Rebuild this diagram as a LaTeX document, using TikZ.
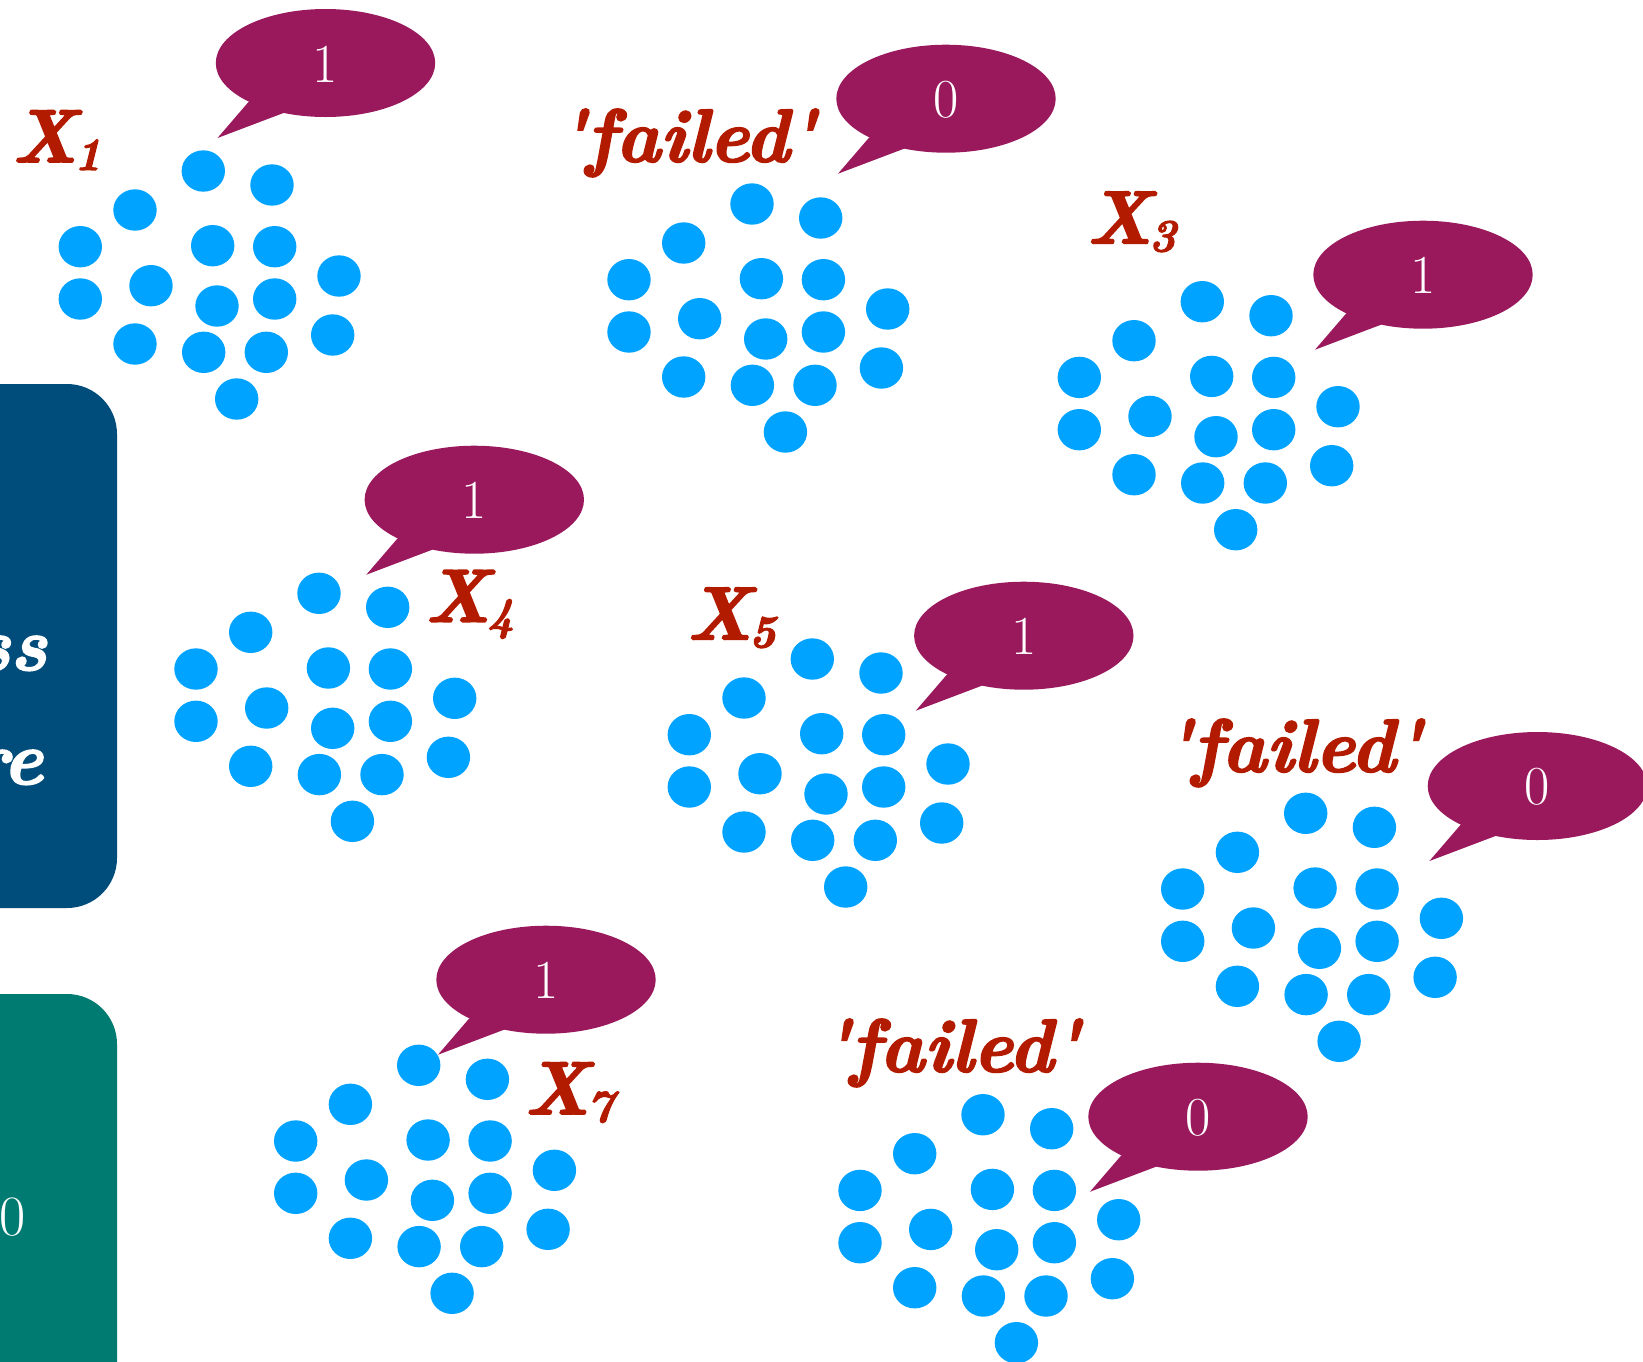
\documentclass[tikz,border=0pt]{standalone}
\usepackage{fontspec}
\newfontface\lblfont{lmroman10-bolditalic.otf}[FakeBold=2.5]
\definecolor{dotblue}{HTML}{00A3FF}
\definecolor{bubblecol}{HTML}{9A195D}
\definecolor{labelred}{HTML}{B31B00}
\definecolor{boxblue}{HTML}{004D7B}
\definecolor{boxteal}{HTML}{007B72}
\newcommand\subsc[1]{\kern-3pt\raisebox{-8pt}{\fontsize{46}{46}\selectfont #1}}
\newcommand\dotcluster[2]{%
  \begin{scope}[shift={(#1,#2)}]
    \foreach \px/\py in {0/0, 68.7/14, -68.3/39, -123/75.7, 9.4/74.7, 71.4/75.7,
      135.7/105, -123/128, -52.3/114.7, 13.7/135, 71.4/128, 129.4/164,
      -68.3/173, 0.4/181.3, 63/181.3, 33.4/228}
      \fill[bluedot] (\px,\py) ellipse[x radius=21.7pt, y radius=20.7pt];
  \end{scope}}
\newcommand\speech[4]{%
  \begin{scope}[shift={(#2,#3)}]
    \fill[bubblecol] (0,0) ellipse[x radius=109.7pt, y radius=54pt];
    \fill[bubblecol] (-108,75) -- (-77,39) -- (0,0) -- (-42,50) -- cycle;
    \node[bubbletext] (#1) at (0,1) {#4};
  \end{scope}}
\tikzset{
  bluedot/.style={fill=dotblue},
  bubbletext/.style={text=white, inner sep=0pt, font=\fontsize{55}{60}\selectfont},
  lbl/.style={text=labelred, inner sep=0pt, anchor=base west, font=\lblfont\fontsize{75}{80}\selectfont},
  boxtext/.style={text=white, inner sep=0pt, anchor=base east, font=\lblfont\fontsize{75}{80}\selectfont},
  sidebox/.style={rounded corners=50pt}
}
\begin{document}
\begin{tikzpicture}[x=1pt,y=-1pt]
\useasboundingbox (0,0) rectangle (1643,1361);
\fill[white] (0,0) rectangle (1643,1361);
\clip (0,0) rectangle (1643,1361);
% side boxes
\fill[boxblue, sidebox] (-120,384) rectangle (117,908);
\fill[boxteal, sidebox] (-120,994) rectangle (117,1500);
\node[boxtext] (bss) at (47,670) {ss};
\node[boxtext] (bre) at (43,784) {re};
\node[text=white, inner sep=0pt, anchor=base east, font=\fontsize{57}{60}\selectfont] (bzero) at (26,1235) {0};
% clusters
\dotcluster{203.3}{171}
\dotcluster{752}{204}
\dotcluster{1202.3}{301.7}
\dotcluster{319}{593.3}
\dotcluster{812.3}{659}
\dotcluster{1305.7}{813.3}
\dotcluster{418.7}{1065.3}
\dotcluster{983}{1114.7}
% bubbles
\speech{b1}{325.5}{63}{1}
\speech{b2}{946}{98.7}{0}
\speech{b3}{1423}{274.7}{1}
\speech{b4}{474.3}{499.7}{1}
\speech{b5}{1023.8}{635.7}{1}
\speech{b6}{1537.4}{786}{0}
\speech{b7}{546}{979.7}{1}
\speech{b8}{1198}{1116.7}{0}
% labels
\node[lbl] (x1) at (12,162) {X\subsc{1}};
\node[lbl] (f2) at (559,161.7) {\textquotesingle failed\textquotesingle};
\node[lbl] (x3) at (1086.7,243.3) {X\subsc{3}};
\node[lbl] (x4) at (425,621.7) {X\subsc{4}};
\node[lbl] (x5) at (686.7,639.3) {X\subsc{5}};
\node[lbl] (f6) at (1165,771.7) {\textquotesingle failed\textquotesingle};
\node[lbl] (x7) at (524.3,1114) {X\subsc{7}};
\node[lbl] (f8) at (823,1071.7) {\textquotesingle failed\textquotesingle};
\end{tikzpicture}
\end{document}
